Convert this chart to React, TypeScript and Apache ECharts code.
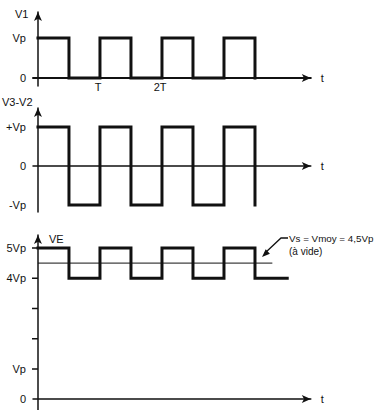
import React, { useEffect, useRef } from "react";
import * as echarts from "echarts";

// Time in units of period T
const v1Wave: [number, number][] = [[0, 1], [0.5, 0], [1, 1], [1.5, 0], [2, 1], [2.5, 0], [3, 1], [3.5, 0]];
const v32Wave: [number, number][] = [[0, 1], [0.5, -1], [1, 1], [1.5, -1], [2, 1], [2.5, -1], [3, 1], [3.5, -1]];
const veWave: [number, number][] = [[0, 5], [0.5, 4], [1, 5], [1.5, 4], [2, 5], [2.5, 4], [3, 5], [3.5, 4], [4.02, 4]];
const meanValue = 4.5;
const meanStart = 0;
const meanEnd = 3.78;

const v1XTicks = [0.97, 1.97];
const v1XLabels: Record<number, string> = { 0.97: "T", 1.97: "2T" };
const v1YTicks = [0, 1];
const v1YLabels: Record<number, string> = { 0: "0", 1: "Vp" };
const v32YTicks = [-1, 0, 1];
const v32YLabels: Record<number, string> = { "-1": "-Vp", 0: "0", 1: "+Vp" };
const veYTicks = [1, 2, 3, 4, 5];
const veYLabelValues = [0, 1, 4, 5];
const veYLabels: Record<number, string> = { 0: "0", 1: "Vp", 4: "4Vp", 5: "5Vp" };

const FONT = "Liberation Sans";
const INK = "#111";

export default function App() {
  const ref = useRef<HTMLDivElement>(null);
  useEffect(() => {
    if (!ref.current) return;
    const chart = echarts.init(ref.current, undefined, { renderer: "svg" });
    const axisLine = (w: number) => ({
      show: true,
      onZero: true,
      symbol: ["none", "arrow"],
      symbolSize: [6, 9],
      lineStyle: { color: INK, width: w },
    });
    const baseX = (idx: number, labels?: { values: number[]; map: Record<number, string> }) => ({
      type: "value",
      gridIndex: idx,
      min: -0.08,
      max: 4.4,
      name: "t",
      nameLocation: "end",
      nameGap: 10,
      nameTextStyle: { fontFamily: FONT, fontSize: 11, color: INK },
      axisLine: axisLine(idx === 0 ? 2 : 1.5),
      axisTick: { show: false },
      splitLine: { show: false },
      axisLabel: labels
        ? {
            show: true,
            customValues: labels.values,
            formatter: (v: number) => labels.map[v] ?? "",
            margin: -5,
            fontFamily: FONT,
            fontSize: 11,
            color: INK,
          }
        : { show: false },
    });
    const baseY = (
      idx: number,
      min: number,
      max: number,
      labelValues: number[],
      map: Record<number, string>
    ) => ({
      type: "value",
      gridIndex: idx,
      min,
      max,
      axisLine: axisLine(1.5),
      axisTick: { show: false },
      splitLine: { show: false },
      axisLabel: {
        show: true,
        customValues: labelValues,
        formatter: (v: number) => map[v] ?? "",
        margin: 7,
        fontFamily: FONT,
        fontSize: 11,
        color: INK,
      },
    });
    const wave = (idx: number, data: [number, number][]) => ({
      type: "line",
      xAxisIndex: idx,
      yAxisIndex: idx,
      data,
      step: "end",
      symbol: "none",
      lineStyle: { color: INK, width: 3, cap: "square", join: "miter" },
      z: 3,
    });
    chart.setOption({
      animation: false,
      backgroundColor: "#fff",
      grid: [
        { left: 33, top: 12, width: 277.8, height: 74 },
        { left: 33, top: 108, width: 277.8, height: 104 },
        { left: 33, top: 235, width: 277.8, height: 175 },
      ],
      xAxis: [
        baseX(0, { values: v1XTicks, map: v1XLabels }),
        baseX(1),
        baseX(2),
      ],
      yAxis: [
        baseY(0, -0.2, 1.65, v1YTicks, v1YLabels),
        baseY(1, -1.18, 1.49, v32YTicks, v32YLabels),
        baseY(2, -0.36, 5.43, veYLabelValues, veYLabels),
      ],
      series: [
        {
          type: "line",
          xAxisIndex: 2,
          yAxisIndex: 2,
          data: veYTicks.flatMap((v) => [[-0.1, v], [0, v], [0, "-"]]),
          symbol: "none",
          connectNulls: false,
          clip: false,
          lineStyle: { color: INK, width: 1.5 },
          z: 10,
        },
        wave(0, v1Wave),
        wave(1, v32Wave),
        wave(2, veWave),
        {
          type: "line",
          xAxisIndex: 2,
          yAxisIndex: 2,
          data: [[meanStart, meanValue], [meanEnd, meanValue]],
          symbol: "none",
          lineStyle: { color: INK, width: 1 },
          z: 2,
        },
      ],
      graphic: [
        { type: "text", left: 15, top: 8, style: { text: "V1", fontFamily: FONT, fontSize: 11, fill: INK } },
        { type: "text", left: 2, top: 96, style: { text: "V3-V2", fontFamily: FONT, fontSize: 11, fill: INK } },
        { type: "text", left: 49, top: 233, style: { text: "VE", fontFamily: FONT, fontSize: 11, fill: INK } },
        {
          type: "text",
          left: 289,
          top: 233,
          style: { text: "Vs = Vmoy = 4,5Vp", fontFamily: FONT, fontSize: 9.8, fill: INK },
        },
        { type: "text", left: 289, top: 246, style: { text: "(à vide)", fontFamily: FONT, fontSize: 10, fill: INK } },
        {
          type: "polyline",
          shape: { points: [[288, 238], [281, 238], [265, 253]] },
          style: { stroke: INK, lineWidth: 1.3, fill: "none" },
        },
        {
          type: "polygon",
          shape: { points: [[262, 257], [269.9, 253.7], [265.7, 249.3]] },
          style: { fill: INK },
        },
      ],
    });
    return () => chart.dispose();
  }, []);
  return (
    <div
      ref={ref}
      style={{ position: "fixed", left: 0, top: 0, width: 380, height: 410, background: "#fff" }}
    />
  );
}
